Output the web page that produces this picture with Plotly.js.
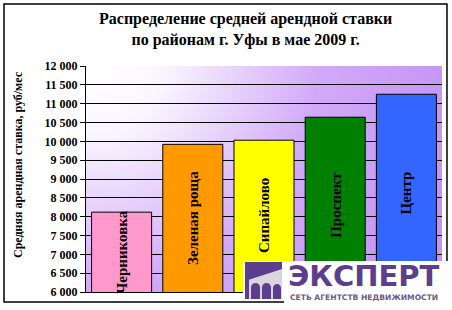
<!DOCTYPE html>
<html>
<head>
<meta charset="utf-8">
<script src="https://cdn.plot.ly/plotly-3.0.1.min.js"></script>
<style>html,body{margin:0;padding:0;background:#fff;}#chart{width:452px;height:310px;}</style>
</head>
<body>
<div id="chart"></div>
<script>
var districts = ["Черниковка", "Зеленая роща", "Сипайлово", "Проспект", "Центр"];
var rentValues = [8120, 9920, 10030, 10640, 11250];
var barColors = ["#ff99cc", "#ff9900", "#ffff00", "#008000", "#3366ff"];
var yTickStart = 6000, yTickEnd = 12000, yTickStep = 500;

var W = 452, H = 310, L = 86, R = 10, T = 66, B = 18;
var pw = W - L - R, ph = H - T - B;
function px(x) { return ((x - L) / pw).toFixed(4); }
function py(y) { return ((H - B - y) / ph).toFixed(4); }
function rect(x0, y0, x1, y1, fill, line) {
  return {type: "rect", xref: "paper", yref: "paper", x0: +px(x0), x1: +px(x1), y0: +py(y1), y1: +py(y0),
    fillcolor: fill, line: line || {width: 0}, layer: "above"};
}
function path(pts, fill) {
  var d = "";
  pts.forEach(function (p) {
    if (p[0] === "Z") { d += " Z"; return; }
    d += " " + p[0];
    for (var i = 1; i < p.length; i += 2) d += " " + px(p[i]) + "," + py(p[i + 1]);
  });
  return {type: "path", xref: "paper", yref: "paper", path: d.trim(), fillcolor: fill, line: {width: 0}, layer: "above"};
}
function arch(x0, x1, yTop, yBot, fill) {
  var r = (x1 - x0) / 2, k = 0.55 * r, ym = yTop + r;
  return path([["M", x0, yBot], ["L", x0, ym], ["C", x0, ym - k, x0 + r - k, yTop, x0 + r, yTop],
    ["C", x0 + r + k, yTop, x1, ym - k, x1, ym], ["L", x1, yBot], ["Z"]], fill);
}
function note(x, y, text, font, angle) {
  return {xref: "paper", yref: "paper", x: +px(x), y: +py(y), xanchor: "center", yanchor: "middle",
    text: text, showarrow: false, font: font, textangle: angle || 0};
}

var purple = "#5c3d8e";
var bgSvg = '<svg xmlns="http://www.w3.org/2000/svg" width="356" height="226" preserveAspectRatio="none">' +
  '<defs><radialGradient id="g" gradientUnits="userSpaceOnUse" cx="10" cy="0" r="370">' +
  '<stop offset="0" stop-color="#ffffff"/><stop offset="0.18" stop-color="#faf6ff"/><stop offset="0.6" stop-color="#d2a9f8"/><stop offset="1" stop-color="#c493f4"/></radialGradient></defs>' +
  '<rect width="356" height="226" fill="url(#g)"/></svg>';

var shapes = [
  {type: "rect", xref: "paper", yref: "paper", x0: +px(4), x1: +px(447), y0: +py(302), y1: +py(4),
    line: {color: "#000", width: 1.5}, fillcolor: "rgba(0,0,0,0)", layer: "above"},
  rect(243, 261, 452, 299.5, "#ffffff"),
  rect(284, 299, 452, 310, "#ffffff"),
  rect(245, 262, 282, 299, "#d9d5df"),
  path([["M", 245, 262], ["L", 282, 262], ["L", 282, 269], ["L", 245, 281], ["Z"]], purple),
  rect(245, 262, 249, 299, purple),
  arch(251, 260, 283, 299, purple),
  arch(262, 271, 283, 299, purple),
  arch(273, 281, 284, 299, purple)
];

var annotations = [
  note(246, 30, "Распределение средней арендной ставки<br>по районам г. Уфы в мае 2009 г.",
    {family: "Liberation Serif", size: 16, weight: "bold", color: "#000"}),
  note(18, 165, "Средняя арендная ставка, руб/мес",
    {family: "Liberation Serif", size: 12, weight: "bold", color: "#000"}, -90),
  note(364, 276, "ЭКСПЕРТ", {family: "DejaVu Sans", size: 29, weight: "bold", color: purple}),
  note(364, 297.5, "СЕТЬ АГЕНТСТВ НЕДВИЖИМОСТИ", {family: "DejaVu Sans", size: 7.6, weight: "bold", color: "#6b5b8c"})
];
districts.forEach(function (d, i) {
  annotations.push({x: d, y: (yTickStart + rentValues[i]) / 2, text: d, textangle: -90, showarrow: false,
    xanchor: "center", yanchor: "middle",
    font: {family: "Liberation Serif", size: 15, weight: "bold", color: "#000"}});
});

var trace = {type: "bar", x: districts, y: rentValues,
  marker: {color: barColors, line: {color: "#000", width: 1}}, hoverinfo: "none"};

var layout = {
  width: W, height: H, margin: {l: L, r: R, t: T, b: B},
  paper_bgcolor: "#ffffff", plot_bgcolor: "rgba(0,0,0,0)",
  separators: ", ", bargap: 0.157, showlegend: false,
  xaxis: {showticklabels: false, ticks: "", showline: true, linecolor: "#000", linewidth: 1, showgrid: false, zeroline: false},
  yaxis: {range: [yTickStart, yTickEnd], dtick: yTickStep, tick0: yTickStart, tickformat: ",d",
    ticks: "outside", ticklen: 5, tickcolor: "#000", showline: true, linecolor: "#000", linewidth: 1,
    showgrid: true, gridcolor: "#000", gridwidth: 1, zeroline: false,
    tickfont: {family: "Liberation Serif", size: 12, weight: "bold", color: "#000"}},
  images: [{source: "data:image/svg+xml;charset=utf-8," + encodeURIComponent(bgSvg), xref: "paper", yref: "paper",
    x: 0, y: 1, sizex: 1, sizey: 1, sizing: "stretch", xanchor: "left", yanchor: "top", layer: "below"}],
  shapes: shapes, annotations: annotations
};

Plotly.newPlot("chart", [trace], layout, {staticPlot: true, displayModeBar: false});
</script>
</body>
</html>
